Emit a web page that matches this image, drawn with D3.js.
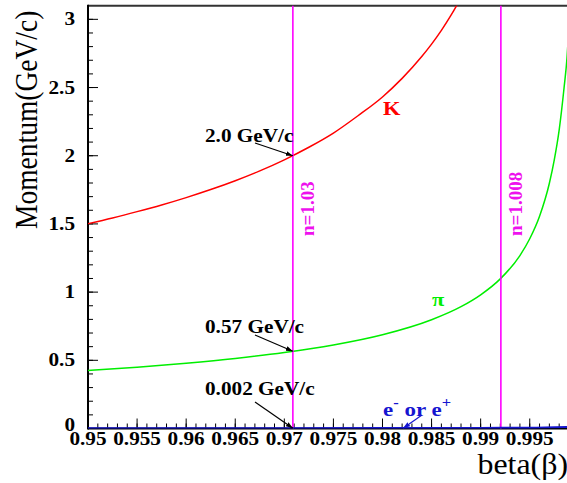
<!DOCTYPE html>
<html>
<head>
<meta charset="utf-8">
<script src="https://cdn.jsdelivr.net/npm/d3@7/dist/d3.min.js"></script>
<style>
  html, body { margin: 0; padding: 0; background: #fff; }
  svg { display: block; }
  text { font-family: "Liberation Serif", "Times New Roman", serif; }
</style>
</head>
<body>
<svg id="chart" width="567" height="483"></svg>
<script>
// Momentum versus velocity (beta) for kaons, pions and electrons
const betaK = [0.95, 0.9525, 0.955, 0.9575, 0.96, 0.9625, 0.965, 0.9675, 0.97, 0.9725, 0.975, 0.9775, 0.98, 0.982, 0.984, 0.985, 0.986, 0.987, 0.988];
const momK  = [1.502, 1.544, 1.590, 1.639, 1.693, 1.752, 1.817, 1.889, 1.970, 2.062, 2.166, 2.293, 2.431, 2.567, 2.727, 2.818, 2.919, 3.032, 3.158];

const betaPi = [0.95, 0.955, 0.96, 0.965, 0.97, 0.975, 0.98, 0.985, 0.988, 0.99, 0.992, 0.994, 0.995, 0.996, 0.997, 0.9975, 0.998, 0.9985, 0.9988, 0.999];
const momPi  = [0.425, 0.449, 0.479, 0.514, 0.557, 0.612, 0.687, 0.797, 0.893, 0.980, 1.097, 1.268, 1.391, 1.556, 1.798, 1.970, 2.190, 2.500, 2.720, 2.950];

const betaE = [0.95, 0.97, 0.98, 0.99, 0.995, 0.999];
const momE  = [0.0016, 0.0020, 0.0025, 0.0036, 0.0051, 0.0114];

// Cherenkov thresholds (beta = 1/n) for the two radiators
const thresholdBeta = [0.97087, 0.99206];
const thresholdLabel = ["n=1.03", "n=1.008"];

// Momentum values quoted at the n=1.03 threshold
const quoteText = ["2.0 GeV/c", "0.57 GeV/c", "0.002 GeV/c"];
const quoteMom  = [2.0, 0.566, 0.002];

const xMajorTicks = [0.95, 0.955, 0.96, 0.965, 0.97, 0.975, 0.98, 0.985, 0.99, 0.995];
const xTickLabels = ["0.95", "0.955", "0.96", "0.965", "0.97", "0.975", "0.98", "0.985", "0.99", "0.995"];
const yMajorTicks = [0, 0.5, 1, 1.5, 2, 2.5, 3];
const yTickLabels = ["0", "0.5", "1", "1.5", "2", "2.5", "3"];

const svg = d3.select("#chart");
const plotLeft = 88, plotRight = 569, plotTop = 5.7, plotBottom = 428.5;
const widen = 1.18; // horizontal stretch of the bold labels

const x = d3.scaleLinear().domain([0.95, 0.999]).range([plotLeft, plotRight]);
const y = d3.scaleLinear().domain([0, 3.1]).range([plotBottom, plotTop]);

const defs = svg.append("defs");
defs.append("clipPath").attr("id", "plot")
  .append("rect").attr("x", plotLeft).attr("y", plotTop)
  .attr("width", plotRight - plotLeft).attr("height", plotBottom - plotTop);

function arrowMarker(id, color) {
  defs.append("marker").attr("id", id)
    .attr("viewBox", "0 0 10 10").attr("refX", 10).attr("refY", 5)
    .attr("markerWidth", 7).attr("markerHeight", 7).attr("markerUnits", "userSpaceOnUse")
    .attr("orient", "auto")
    .append("path").attr("d", "M0,1.5 L10,5 L0,8.5 Z").attr("fill", color);
}
arrowMarker("arrowBlack", "#000");
arrowMarker("arrowBlue", "#1515d0");

function label(parent, px, py, size, opts = {}) {
  const t = parent.append("text")
    .attr("transform", `translate(${px},${py}) scale(${opts.sx || widen},1)${opts.rotate ? " rotate(" + opts.rotate + ")" : ""}`)
    .attr("font-size", size)
    .attr("font-weight", opts.weight || "bold")
    .attr("fill", opts.fill || "#000")
    .attr("text-anchor", opts.anchor || "start");
  return t;
}

// Minor ticks
const xMinor = d3.range(0, 49).map(i => 0.95 + i * 0.001);
const yMinor = d3.range(0, 31).map(i => i * 0.1);

const axisG = svg.append("g");
axisG.selectAll(".xminor").data(xMinor).join("line")
  .attr("x1", d => x(d)).attr("x2", d => x(d))
  .attr("y1", plotBottom).attr("y2", plotBottom - 5)
  .attr("stroke", "#000").attr("stroke-width", 1);
axisG.selectAll(".xmajor").data(xMajorTicks).join("line")
  .attr("x1", d => x(d)).attr("x2", d => x(d))
  .attr("y1", plotBottom).attr("y2", plotBottom - 10)
  .attr("stroke", "#000").attr("stroke-width", 1);
axisG.selectAll(".yminor").data(yMinor).join("line")
  .attr("x1", plotLeft).attr("x2", plotLeft + 5)
  .attr("y1", d => y(d)).attr("y2", d => y(d))
  .attr("stroke", "#000").attr("stroke-width", 1);
axisG.selectAll(".ymajor").data(yMajorTicks).join("line")
  .attr("x1", plotLeft).attr("x2", plotLeft + 10)
  .attr("y1", d => y(d)).attr("y2", d => y(d))
  .attr("stroke", "#000").attr("stroke-width", 1);

// Frame
svg.append("line").attr("x1", plotLeft).attr("x2", 567).attr("y1", plotTop).attr("y2", plotTop)
  .attr("stroke", "#333").attr("stroke-width", 2);
svg.append("line").attr("x1", plotLeft).attr("x2", plotLeft).attr("y1", plotTop - 1).attr("y2", plotBottom + 1)
  .attr("stroke", "#000").attr("stroke-width", 2);
svg.append("line").attr("x1", plotLeft).attr("x2", 567).attr("y1", plotBottom).attr("y2", plotBottom)
  .attr("stroke", "#000").attr("stroke-width", 2);

// Tick labels (the zero label sits a little higher to clear 0.95)
xMajorTicks.forEach((d, i) => {
  label(svg, x(d), 445, 18, { anchor: "middle" }).text(xTickLabels[i]);
});
yMajorTicks.forEach((d, i) => {
  label(svg, 75, y(d) + (d === 0 ? 2 : 6), 18, { anchor: "end" }).text(yTickLabels[i]);
});

// Axis titles
label(svg, 37, 229, 27.5, { weight: "normal", sx: 1.12, rotate: -90 }).text("Momentum(GeV/c)");
label(svg, 568, 474, 29, { weight: "normal", sx: 1.1, anchor: "end" }).text("beta(\u03b2)");

// Curves
const line = d3.line().x(d => x(d[0])).y(d => y(d[1])).curve(d3.curveMonotoneX);
const plotG = svg.append("g").attr("clip-path", "url(#plot)");

plotG.append("path").datum(betaK.map((b, i) => [b, momK[i]]))
  .attr("d", line).attr("fill", "none").attr("stroke", "#ff0000").attr("stroke-width", 1.5);
plotG.append("path").datum(betaPi.map((b, i) => [b, momPi[i]]))
  .attr("d", line).attr("fill", "none").attr("stroke", "#00ee00").attr("stroke-width", 1.5);

// Threshold lines
svg.selectAll(".thr").data(thresholdBeta).join("line")
  .attr("x1", d => x(d)).attr("x2", d => x(d))
  .attr("y1", plotTop).attr("y2", plotBottom)
  .attr("stroke", "#ff00ff").attr("stroke-width", 1.6);
thresholdBeta.forEach((d, i) => {
  label(svg, x(d) + 21, 236, 19, { sx: 1.0, rotate: -90, fill: "#ee11ee" }).text(thresholdLabel[i]);
});

// Electron curve along the axis
svg.append("path").datum(betaE.map((b, i) => [b, momE[i]]))
  .attr("d", line).attr("fill", "none").attr("stroke", "#1515d0").attr("stroke-width", 2.2)
  .attr("clip-path", "url(#plot)");

// Particle labels
label(svg, 383, 115, 19, { fill: "#ff0000" }).text("K");
label(svg, 432, 306, 19, { fill: "#00ee00" }).text("\u03c0");

const eLab = label(svg, 383, 416, 19.5, { fill: "#1515d0" });
eLab.append("tspan").text("e");
eLab.append("tspan").attr("dy", -9).attr("font-size", 14).text("-");
eLab.append("tspan").attr("dy", 9).text(" or e");
eLab.append("tspan").attr("dy", -9).attr("font-size", 14).text("+");
svg.append("line")
  .attr("x1", 422).attr("y1", 415).attr("x2", x(0.9821)).attr("y2", y(0.002))
  .attr("stroke", "#1515d0").attr("stroke-width", 1.2).attr("marker-end", "url(#arrowBlue)");

// Quoted momenta with arrows to the n=1.03 threshold
const quoteTextY = [142, 333, 395];
const quoteArrowY = [143, 335, 402];
quoteText.forEach((t, i) => {
  label(svg, 205, quoteTextY[i], 18).text(t);
  svg.append("line")
    .attr("x1", 255).attr("y1", quoteArrowY[i])
    .attr("x2", x(thresholdBeta[0])).attr("y2", y(quoteMom[i]))
    .attr("stroke", "#000").attr("stroke-width", 1.2).attr("marker-end", "url(#arrowBlack)");
});
</script>
</body>
</html>
